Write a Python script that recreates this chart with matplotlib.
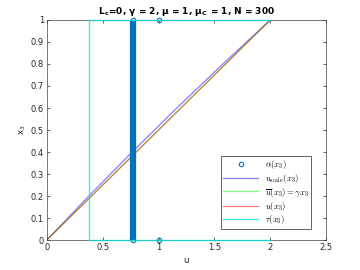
import matplotlib
matplotlib.use("Agg")
import matplotlib.pyplot as plt

plt.rcParams['mathtext.fontset'] = 'cm'

# data
alpha_u = [0.77, 0.77, 1.0, 1.0]
alpha_x3 = [0.0, 1.0, 0.0, 1.0]
alpha_band_u = [0.77, 0.77]
alpha_band_x3 = [0.0, 1.0]

x3 = [0.0, 0.2, 0.4, 0.6, 0.8, 1.0]
u_scale = [0.0, 0.376, 0.764, 1.164, 1.576, 2.0]
u_bar = [0.0, 0.4, 0.8, 1.2, 1.6, 2.0]
u_sol = [0.0, 0.4, 0.8, 1.2, 1.6, 2.0]

tau_u = [2.0, 0.38, 0.38, 2.0]
tau_x3 = [0.0, 0.0, 1.0, 1.0]

mblue = '#0072BD'

fig = plt.figure(figsize=(3.6, 2.7), dpi=100)
ax = fig.add_axes([0.13, 0.111, 0.776, 0.815])

ax.plot(alpha_band_u, alpha_band_x3, color=mblue, lw=4.5, solid_capstyle='butt',
        clip_on=False, zorder=3)
ax.plot(alpha_u, alpha_x3, 'o', color=mblue, mfc='none', ms=3.2, mew=0.8,
        label=r'$\alpha(x_3)$', clip_on=False, zorder=4)
ax.plot(u_scale, x3, color='b', alpha=0.5, lw=0.9, label=r'$u_{\mathrm{scale}}(x_3)$')
ax.plot(u_bar, x3, color='#00ff00', alpha=0.5, lw=0.9,
        label=r'$\overline{u}(x_3) = \gamma x_3$')
ax.plot(u_sol, x3, color='r', alpha=0.5, lw=0.9, label=r'$u(x_3)$')
ax.plot(tau_u, tau_x3, color='#00e5e5', alpha=0.75, lw=1.0, label=r'$\tau(x_3)$',
        clip_on=False, zorder=5)

ax.set_xlim(0, 2.5)
ax.set_ylim(0, 1)
ax.set_xticks([0, 0.5, 1, 1.5, 2, 2.5])
ax.set_xticklabels(['0', '0.5', '1', '1.5', '2', '2.5'])
ax.set_yticks([i / 10 for i in range(11)])
ax.set_yticklabels(['0', '0.1', '0.2', '0.3', '0.4', '0.5', '0.6', '0.7', '0.8', '0.9', '1'])
ax.tick_params(direction='in', length=2.5, width=0.5, labelsize=6, colors='#262626',
               top=True, right=True, pad=2)
for s in ax.spines.values():
    s.set_color('#404040')
    s.set_linewidth(0.5)

ax.set_xlabel('u', fontsize=6.2, color='#262626', labelpad=3)
ax.set_ylabel(r'x$_\mathregular{3}$', fontsize=6.2, color='#262626', labelpad=2)
ax.set_title(r'L$_\mathregular{c}$=0, γ = 2, μ = 1, μ$_\mathregular{C}$ = 1, N = 300',
             fontsize=6.5, fontweight='bold', pad=4)

leg = ax.legend(loc='lower right', bbox_to_anchor=(0.946, 0.05), fontsize=6.2,
                fancybox=False, edgecolor='#262626', framealpha=1,
                borderaxespad=0, handlelength=4.0, labelspacing=0.1,
                borderpad=0.3, handletextpad=0.8)
leg.get_frame().set_linewidth(0.5)

fig.savefig('out.png', dpi=100)
